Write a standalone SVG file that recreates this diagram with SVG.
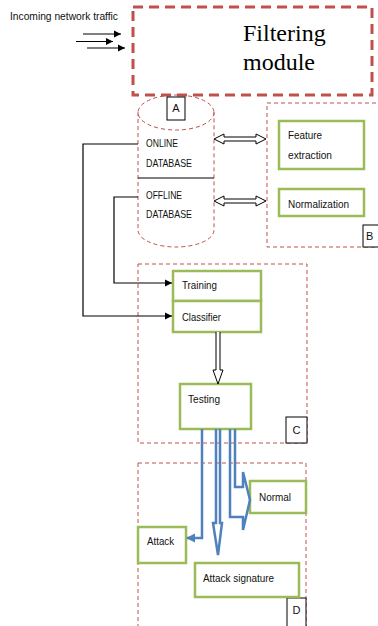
<svg xmlns="http://www.w3.org/2000/svg" width="378" height="626" viewBox="0 0 378 626">
<defs>
<style>
.t{font-family:"Liberation Sans",Arial,sans-serif;font-size:11px;fill:#111}
.big{font-family:"Liberation Serif","Times New Roman",serif;font-size:24px;fill:#000}
.reg{fill:none;stroke:#C0504D;stroke-width:1;stroke-dasharray:4 3}
.g{fill:#fff;stroke:#9BBB59;stroke-width:2.5}
.lbl{fill:#fff;stroke:#000;stroke-width:1}
.ln{fill:none;stroke:#000;stroke-width:1.2}
.ha{fill:#fff;stroke:#000;stroke-width:1}
.bl{fill:none;stroke:#4F81BD;stroke-width:2.5;stroke-linejoin:miter}
</style>
<marker id="ah" markerWidth="8" markerHeight="8" refX="7" refY="4" orient="auto" markerUnits="userSpaceOnUse">
<path d="M0,0.5 L7,4 L0,7.5 Z" fill="#000"/>
</marker>
<marker id="bh" markerWidth="10" markerHeight="10" refX="8" refY="5" orient="auto" markerUnits="userSpaceOnUse">
<path d="M0,0.5 L9,5 L0,9.5 Z" fill="#4F81BD"/>
</marker>
</defs>

<g id="incoming">
<text class="t" x="10" y="20" textLength="108" lengthAdjust="spacingAndGlyphs">Incoming network traffic</text>
</g>

<g id="filtering">
<rect x="133" y="7" width="239" height="88" fill="none" stroke="#C0504D" stroke-width="3" stroke-dasharray="10 6"/>
<text class="big" x="243" y="41">Filtering</text>
<text class="big" x="243" y="70">module</text>
</g>

<g id="A">
<path class="reg" d="M138 112 L138 230 A38 17 0 0 0 214 230 L214 112"/>
<ellipse class="reg" cx="176" cy="112.5" rx="38" ry="17.5"/>
<line x1="138" y1="178" x2="214" y2="178" stroke="#000" stroke-width="1"/>
<rect class="lbl" x="167" y="97" width="18" height="23"/>
<text class="t" x="176" y="112" text-anchor="middle">A</text>
<text class="t" x="146" y="147" textLength="32" lengthAdjust="spacingAndGlyphs">ONLINE</text>
<text class="t" x="146" y="167" textLength="46" lengthAdjust="spacingAndGlyphs">DATABASE</text>
<text class="t" x="146" y="199" textLength="36" lengthAdjust="spacingAndGlyphs">OFFLINE</text>
<text class="t" x="146" y="218" textLength="46" lengthAdjust="spacingAndGlyphs">DATABASE</text>
</g>

<g id="B">
<rect class="reg" x="267" y="103" width="115" height="144"/>
<rect class="lbl" x="363" y="225" width="20" height="22"/>
<text class="t" x="366" y="240">B</text>
</g>

<g id="feature">
<rect class="g" x="279" y="121" width="85" height="48"/>
<text class="t" x="288" y="139" textLength="34" lengthAdjust="spacingAndGlyphs">Feature</text>
<text class="t" x="288" y="159" textLength="44" lengthAdjust="spacingAndGlyphs">extraction</text>
</g>

<g id="normalization">
<rect class="g" x="279" y="189" width="85" height="27"/>
<text class="t" x="288" y="208" textLength="61" lengthAdjust="spacingAndGlyphs">Normalization</text>
</g>

<g id="C">
<rect class="reg" x="138" y="264" width="169" height="179"/>
<rect class="lbl" x="286" y="417" width="21" height="26"/>
<text class="t" x="296.5" y="434" text-anchor="middle">C</text>
</g>

<g id="training">
<rect class="g" x="173" y="271" width="88" height="30"/>
<text class="t" x="182" y="289" textLength="35" lengthAdjust="spacingAndGlyphs">Training</text>
</g>

<g id="classifier">
<rect class="g" x="173" y="301" width="88" height="31"/>
<text class="t" x="182" y="321" textLength="39" lengthAdjust="spacingAndGlyphs">Classifier</text>
</g>

<g id="testing">
<rect class="g" x="180" y="384" width="71" height="45"/>
<text class="t" x="188" y="403" textLength="32" lengthAdjust="spacingAndGlyphs">Testing</text>
</g>

<g id="D">
<rect class="reg" x="138" y="463" width="168" height="170"/>
<rect class="lbl" x="287" y="598" width="19" height="30"/>
<text class="t" x="296.5" y="614" text-anchor="middle">D</text>
</g>

<g id="normal">
<rect class="g" x="250" y="481" width="56" height="32"/>
<text class="t" x="259" y="501" textLength="32" lengthAdjust="spacingAndGlyphs">Normal</text>
</g>

<g id="attack">
<rect class="g" x="138" y="527" width="48" height="36"/>
<text class="t" x="147" y="545" textLength="27" lengthAdjust="spacingAndGlyphs">Attack</text>
</g>

<g id="attacksig">
<rect class="g" x="195" y="563" width="104" height="34"/>
<text class="t" x="203" y="582" textLength="71" lengthAdjust="spacingAndGlyphs">Attack signature</text>
</g>

<g id="connectors">
<line class="ln" x1="83" y1="34" x2="121" y2="34" marker-end="url(#ah)"/>
<line class="ln" x1="76" y1="41.5" x2="113" y2="41.5" marker-end="url(#ah)"/>
<line class="ln" x1="87" y1="48" x2="125" y2="48" marker-end="url(#ah)"/>
<path class="ha" d="M214 139 L224 134 L224 137 L256 137 L256 134 L266 139 L256 144 L256 141 L224 141 L224 144 Z"/>
<path class="ha" d="M214 201 L224 196 L224 199 L256 199 L256 196 L266 201 L256 206 L256 203 L224 203 L224 206 Z"/>
<polyline class="ln" points="138,144 83,144 83,316 172,316" marker-end="url(#ah)"/>
<polyline class="ln" points="138,197 114,197 114,283 172,283" marker-end="url(#ah)"/>
<path class="ha" d="M216 332 L216 370 L213 370 L218 384 L223 370 L220 370 L220 332"/>
<polyline class="bl" points="202,429 202,538 187,538" marker-end="url(#bh)"/>
<path class="bl" d="M216 429 L216 523 L213 523 L218 555 L222 523 L220 523 L220 429"/>
<path class="bl" d="M230 429 L230 517 L243 517 L243 530 L250 500 L243 472 L243 487 L235 487 L235 429"/>
</g>
</svg>
